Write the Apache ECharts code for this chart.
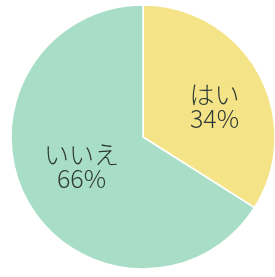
<!DOCTYPE html>
<html>
<head>
<meta charset="utf-8">
<script src="https://cdn.jsdelivr.net/npm/echarts@6/dist/echarts.min.js"></script>
<style>
  html, body { margin: 0; padding: 0; background: #fff; }
  #chart { width: 275px; height: 277px; }
</style>
</head>
<body>
<div id="chart"></div>
<script>
const categories = ['はい', 'いいえ'];
const values = [34, 66];
const colors = ['#f5e487', '#a8dec7'];
const labelOffsets = [[11, 3], [-1, -4]];

const chart = echarts.init(document.getElementById('chart'));
chart.setOption({
  animation: false,
  series: [
    {
      type: 'pie',
      center: [143, 137],
      radius: [0, 132],
      startAngle: 90,
      clockwise: true,
      data: categories.map((name, i) => ({
        name: name,
        value: values[i],
        itemStyle: { color: colors[i] },
        label: { offset: labelOffsets[i] }
      })),
      itemStyle: {
        borderColor: '#ffffff',
        borderWidth: 1.5
      },
      label: {
        show: true,
        position: 'inside',
        formatter: '{b}\n{c}%',
        color: '#2f3a35',
        fontFamily: 'Noto Sans CJK JP',
        fontWeight: 300,
        fontSize: 25,
        lineHeight: 24
      },
      labelLine: { show: false },
      emphasis: { disabled: true }
    }
  ]
});
</script>
</body>
</html>
